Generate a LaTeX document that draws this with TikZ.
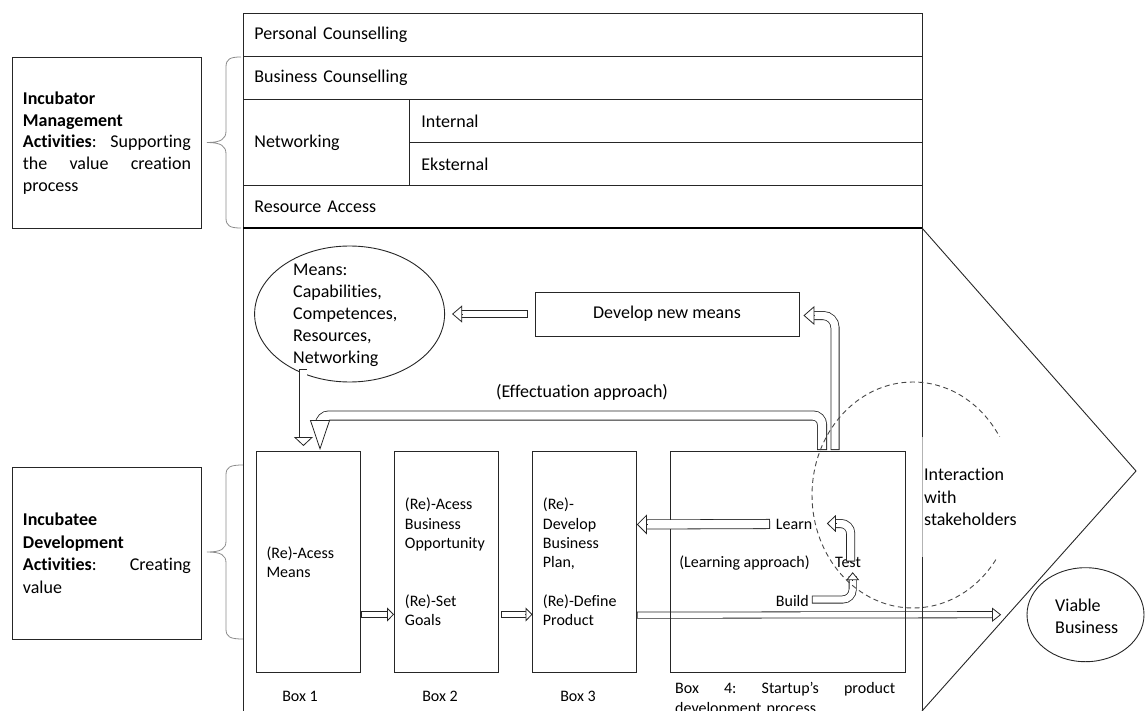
\documentclass[tikz,border=0pt]{standalone}
\usepackage{fontspec}
\setmainfont{Carlito}[Ligatures=NoCommon]
\usetikzlibrary{arrows.meta,shapes.geometric,calc}
\definecolor{lc}{HTML}{262626}
\definecolor{bc}{HTML}{8C8C8C}
\begin{document}
\begin{tikzpicture}[x=1pt,y=-1pt,
  font=\fontsize{16}{19.3}\selectfont,
  big/.style={font=\fontsize{18}{#1}\selectfont},
  big/.default=22,
  box/.style={draw=lc, line width=0.9, inner ysep=0, anchor=north west, align=left},
  txt/.style={inner sep=0},
  shaft/.style={draw=lc, line width=0.8, double=white, double distance=#1, line cap=rect},
  head/.style 2 args={draw=lc, line width=0.8, -{Triangle[width=#1pt, length=#2pt, fill=white]}},
  brace/.style={draw=bc, line width=0.8},
  dashcirc/.style={draw=lc!85, line width=0.9, dash pattern=on 5pt off 3.5pt},
  lline/.style={draw=lc, line width=0.9}
]
\useasboundingbox (0,0) rectangle (1145,711);

% ---------- left descriptive boxes ----------
\node[box, minimum width=189, minimum height=171, text width=168, inner xsep=10.5, big=21.7] (imb) at (12,57)
 {\textbf{Incubator}\\\textbf{Management}\\\textbf{Activities}:\hfill Supporting\\the\hfill value\hfill creation\\process};
\node[box, minimum width=189, minimum height=172.3, text width=168, inner xsep=10.5, big=22.5] (idb) at (12,466.7)
 {\textbf{Incubatee}\\\textbf{Development}\\\textbf{Activities}:\hfill Creating\\value};

% braces
\draw[brace] (241,57) .. controls (230,57) and (226,59) .. (226,67) -- (226,131)
  .. controls (226,139) and (221,142.5) .. (207,142.5)
  .. controls (221,142.5) and (226,146) .. (226,154) -- (226,218)
  .. controls (226,226) and (230,228) .. (241,228);
\draw[brace] (243,465) .. controls (230,465) and (226,467) .. (226,475) -- (226,541)
  .. controls (226,549) and (221,552) .. (207,552)
  .. controls (221,552) and (226,555) .. (226,563) -- (226,629)
  .. controls (226,637) and (230,639) .. (243,639);

% ---------- top table ----------
\node[box, big, minimum width=679, minimum height=43, text width=657, inner xsep=11] (pc) at (243,13) {Personal Counselling};
\node[box, big, minimum width=679, minimum height=43, text width=657, inner xsep=11] (bcn) at (243,56) {Business Counselling};
\node[box, big, minimum width=166, minimum height=86, text width=144, inner xsep=11] (net) at (243,99) {Networking};
\node[box, big, minimum width=513, minimum height=43.5, text width=489, inner xsep=12] (int) at (409,99) {Internal};
\node[box, big, minimum width=513, minimum height=42.5, text width=489, inner xsep=12] (eks) at (409,142.5) {Eksternal};
\node[box, big, minimum width=679, minimum height=43, text width=657, inner xsep=11] (ra) at (243,185) {Resource Access};

% ---------- process boxes ----------
\path (255.6,451) node[box, minimum width=104, minimum height=221, text width=83, inner xsep=10.5] (b1)
 {(Re)-Acess\\Means};
\path (394,451) node[box, minimum width=104, minimum height=221, text width=83, inner xsep=10.5] (b2)
 {(Re)-Acess\\Business\\Opportunity\\[38.6pt](Re)-Set\\Goals};
\path (532,451) node[box, minimum width=104, minimum height=221, text width=83, inner xsep=10.5] (b3)
 {(Re)-\\Develop\\Business\\Plan,\\[19.3pt](Re)-Define\\Product};

% long arrow Box3 -> Viable (under the frame lines)
\node[ellipse, draw=lc, line width=0.9, minimum width=117, minimum height=94, inner sep=0] (viable) at (1085.5,614.7) {};
\draw[shaft=5.4] ($(b3.east)+(3.5,53.2)$) -- ($(viable.west)+(-34.4,0)$);
\draw[head={14}{9}] ($(viable.west)+(-34.4,0)$) -- ($(viable.west)+(-25.4,0)$);

% main frame
\draw[lline] (243,711) -- (243,228) -- (922,228) -- (922,711);
\draw[draw=black, line width=1.7] (243,228) -- (922,228);

% box 4 and redraw of box 3 outline
\path (670,451) node[box, minimum width=235, minimum height=221] (b4) {};
\draw[lline] (b3.north west) rectangle (b3.south east);

% means and develop
\node[ellipse, draw=lc, line width=0.9, minimum width=190, minimum height=136, inner sep=0] (means) at (349.6,314) {};
\node[txt, anchor=west, align=left, big=22] (meanst) at (293,315)
 {Means:\\Capabilities,\\Competences,\\Resources,\\Networking};
\node[draw=lc, line width=0.9, minimum width=264, minimum height=44, inner sep=0, big] (dev) at (667,314) {Develop new means};

% labels in box 4
\node[txt, anchor=west] (learn) at (775.7,524) {Learn};
\node[txt] (lapp) at (744.5,562.7) {(Learning approach)};
\node[txt] (test) at (848,562) {Test};
\node[txt, anchor=west] (build) at (775.7,601) {Build};
\node[txt, big] (eff) at (582,392.3) {(Effectuation approach)};

% ---------- block arrows ----------
% Develop new means -> Means
\draw[shaft=6.4] ($(dev.west)+(-11,0)$) -- ($(means.east)+(17,0)$);
\draw[head={17}{10}] ($(means.east)+(17,0)$) -- ($(means.east)+(7,0)$);
% Means -> Box 1
\draw[shaft=6.4] ($(b1.north)+(-4.6,-78)$) -- ($(b1.north)+(-4.6,-14)$);
\draw[head={19}{9}] ($(b1.north)+(-4.6,-14)$) -- ($(b1.north)+(-4.6,-5)$);
% Effectuation loop: Box 4 -> Box 1
\draw[shaft=8.4, rounded corners=9] ($(b4.north west)+(152,-6)$) |- ($(b1.north west)+(64.4,-35.5)$) -- ($(b1.north west)+(64.4,-23)$);
\draw[head={20}{30}] ($(b1.north west)+(64.4,-31)$) -- ($(b1.north west)+(64.4,-1)$);
% Box 4 -> Develop new means
\draw[shaft=7.4, rounded corners=12] ($(b4.north west)+(165,-5.5)$) |- ($(dev.east)+(15,1.5)$);
\draw[head={19}{11}] ($(dev.east)+(15,1.5)$) -- ($(dev.east)+(4,1.5)$);
% Box1 -> Box2, Box2 -> Box3
\draw[shaft=5.4] ($(b1.east)+(4.4,52.5)$) -- ($(b2.west)+(-7,52.5)$);
\draw[head={14}{7}] ($(b2.west)+(-7,52.5)$) -- ($(b2.west)+(0,52.5)$);
\draw[shaft=5.4] ($(b2.east)+(5.5,52.5)$) -- ($(b3.west)+(-7,52.5)$);
\draw[head={14}{7}] ($(b3.west)+(-7,52.5)$) -- ($(b3.west)+(0.5,52.5)$);
% Learn -> Box 3
\draw[shaft=8.4] ($(learn.west)+(-10.7,0)$) -- ($(b3.east)+(10,-37.5)$);
\draw[head={20}{10}] ($(b3.east)+(10,-37.5)$) -- ($(b3.east)+(0,-37.5)$);
% Build -> Test
\draw[shaft=6.4, rounded corners=10] ($(build.east)+(6.9,-1.5)$) -| ($(test.south)+(4.7,12.8)$);
\draw[head={13}{8}] ($(test.south)+(4.7,12.8)$) -- ($(test.south)+(4.7,4.8)$);
% Test -> Learn
\draw[shaft=7.4, rounded corners=10] ($(test.north)+(2.7,0.4)$) |- ($(learn.east)+(23.4,-0.5)$);
\draw[head={17}{9}] ($(learn.east)+(23.4,-0.5)$) -- ($(learn.east)+(14.4,-0.5)$);

% box labels
\node[txt] (l1) at (300,696) {Box 1};
\node[txt] (l2) at (440,696) {Box 2};
\node[txt] (l3) at (578,696) {Box 3};
\node[txt, anchor=north west, text width=220, align=left, font=\fontsize{16}{19.5}\selectfont] (l4) at (675,682.5)
 {Box\hfill 4:\hfill Startup’s\hfill product\\development process};

% interaction with stakeholders
\draw[dashcirc] (913,495) ellipse [x radius=101, y radius=113];
\node[fill=white, anchor=north west, minimum width=126, minimum height=120, text width=122,
      inner xsep=2, inner ysep=0, align=left, big=22.5] (inter) at (922,437)
 {Interaction\\with\\stakeholders};
\draw[draw=lc!35, line width=0.9] (922,437) -- (922,557);

% Viable business
\node[txt, anchor=west, align=left, big=21.7] (viablet) at (1055,616) {Viable\\Business};

% chevron
\draw[lline] (922,228) -- (1136,471) -- (922,711);
\end{tikzpicture}
\end{document}
